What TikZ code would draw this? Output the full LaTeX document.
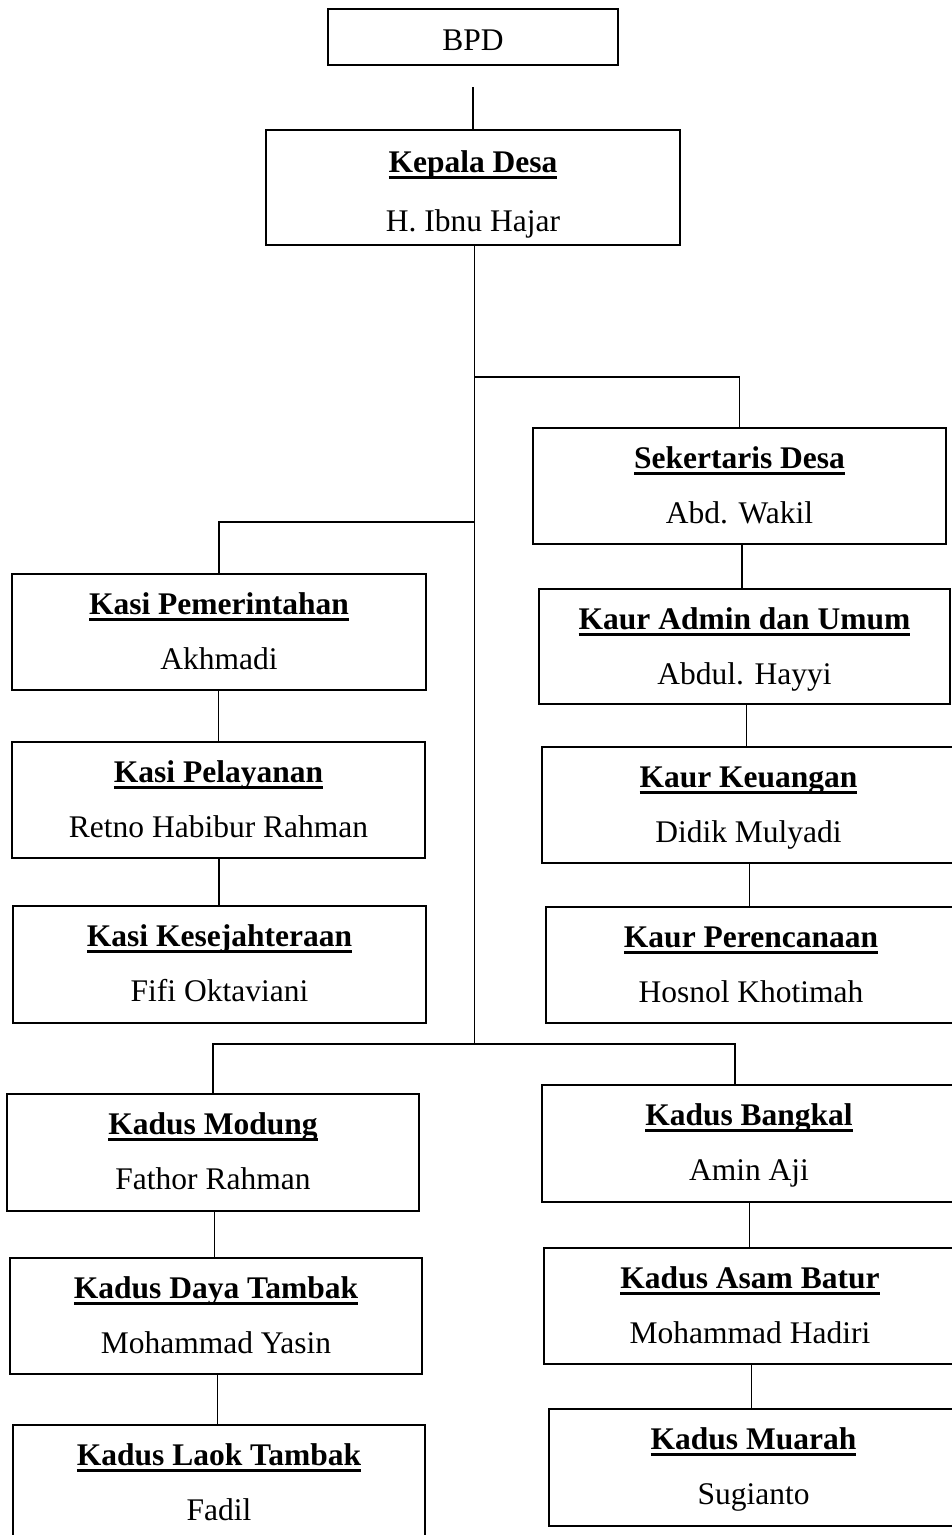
\documentclass[tikz,border=0pt]{standalone}
\usepackage{fontspec}
\setmainfont{Liberation Serif}
\usetikzlibrary{calc}
\newcommand\myul[1]{\setbox0=\hbox{#1}\rlap{\rule[-7pt]{\wd0}{3pt}}\box0}
% name, cx, cy, width, height, title, person, title offset, person offset
\newcommand\orgbox[9]{%
  \node[orgrect, minimum width=#4pt, minimum height=#5pt] (#1) at (#2,-#3) {};
  \node[txt] (#1-t) at ([yshift=-#8pt]#1.north) {\myul{\textbf{#6}}};
  \node[txt] (#1-n) at ([yshift=-#9pt]#1.north) {#7};
}
\newcommand\vlink[2]{%
  \coordinate (#1-#2-m) at ($(#1.south)!0.5!(#2.north)$);
  \draw[conn] (#1-#2-m |- #1.south) -- (#1-#2-m |- #2.north);
}
\begin{document}
\begin{tikzpicture}[x=1pt,y=1pt,
  font=\fontsize{31.5}{38}\selectfont,
  orgrect/.style={draw=black, line width=2pt, inner sep=0pt, fill=none},
  txt/.style={anchor=base, inner sep=0pt},
  conn/.style={draw=black, line width=1.1pt}]
\useasboundingbox (0,0) rectangle (952,-1535);
\fill[white] (0,0) rectangle (952,-1535);

% BPD
\node[orgrect, minimum width=290pt, minimum height=56pt] (bpd) at (473,-37) {};
\node[txt] (bpd-t) at (473,-50) {BPD};

\orgbox{kades}{473}{187.5}{414}{115}{Kepala Desa}{H. Ibnu Hajar}{43}{102}
\orgbox{sekdes}{739.5}{486}{413}{116}{Sekertaris Desa}{Abd. Wakil}{41}{96}
\orgbox{admin}{744.5}{646.5}{411}{115}{Kaur Admin dan Umum}{Abdul. Hayyi}{41}{96}
\orgbox{keu}{748.5}{805}{413}{116}{Kaur Keuangan}{Didik Mulyadi}{41}{96}
\orgbox{ren}{751}{965}{410}{116}{Kaur Perencanaan}{Hosnol Khotimah}{41}{96}
\orgbox{kasipem}{219}{632}{414}{116}{Kasi Pemerintahan}{Akhmadi}{41}{96}
\orgbox{kasipel}{218.5}{800}{413}{116}{Kasi Pelayanan}{Retno Habibur Rahman}{41}{96}
\orgbox{kasikes}{219.5}{964.5}{413}{117}{Kasi Kesejahteraan}{Fifi Oktaviani}{41}{96}
\orgbox{modung}{213}{1152.5}{412}{117}{Kadus Modung}{Fathor Rahman}{41}{96}
\orgbox{daya}{216}{1316}{412}{116}{Kadus Daya Tambak}{Mohammad Yasin}{41}{96}
\orgbox{laok}{219}{1483.5}{412}{117}{Kadus Laok Tambak}{Fadil}{41}{96}
\orgbox{bangkal}{749}{1143.5}{414}{117}{Kadus Bangkal}{Amin Aji}{41}{96}
\orgbox{asam}{750}{1306}{412}{116}{Kadus Asam Batur}{Mohammad Hadiri}{41}{96}
\orgbox{muarah}{753.5}{1467.5}{409}{117}{Kadus Muarah}{Sugianto}{41}{96}

% connectors
\draw[conn] ([yshift=-21pt]bpd.south) -- (kades.north);
\coordinate (tbot) at (474.5,-1044);
\coordinate (jr) at (474.5,-377);
\coordinate (jl) at (474.5,-522);
\draw[conn] (kades.south -| tbot) -- (tbot);
\draw[conn] (jr) -| (sekdes.north);
\draw[conn] (jl) -| (kasipem.north);
\draw[conn] (modung.north) |- (tbot) -| ([xshift=-14pt]bangkal.north);

\vlink{sekdes}{admin}
\vlink{admin}{keu}
\vlink{keu}{ren}
\vlink{kasipem}{kasipel}
\vlink{kasipel}{kasikes}
\vlink{modung}{daya}
\vlink{daya}{laok}
\vlink{bangkal}{asam}
\vlink{asam}{muarah}
\end{tikzpicture}
\end{document}
